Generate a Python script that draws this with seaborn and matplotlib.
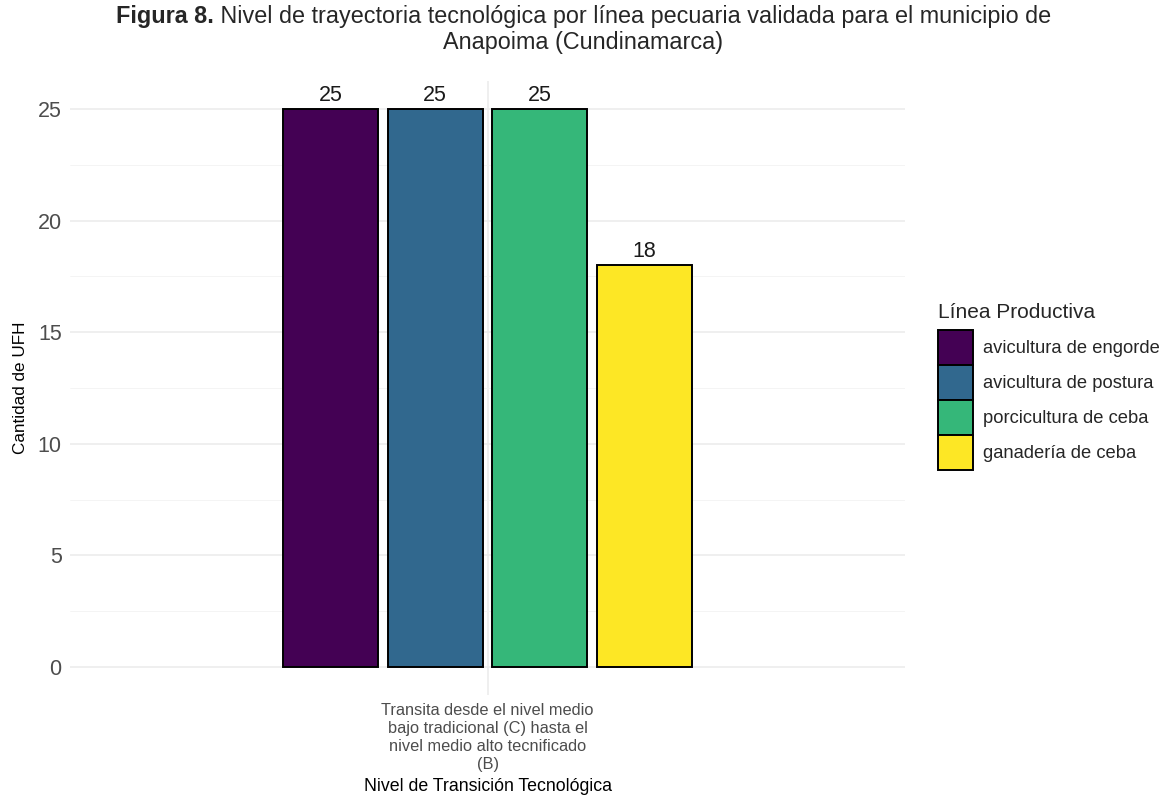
import matplotlib
matplotlib.use("Agg")
import matplotlib.pyplot as plt
import matplotlib.patches as mpatches
import seaborn as sns
import pandas as pd

# Data
nivel = ["Transita desde el nivel medio\nbajo tradicional (C) hasta el\nnivel medio alto tecnificado\n(B)"]
lineas = ["avicultura de engorde", "avicultura de postura",
          "porcicultura de ceba", "ganadería de ceba"]
cantidades = [25, 25, 25, 18]
colores = ["#440154", "#31688E", "#35B779", "#FDE725"]
y_ticks = [0, 5, 10, 15, 20, 25]
y_minor = [2.5, 7.5, 12.5, 17.5, 22.5]

titulo_bold = "Figura 8."
titulo_resto = " Nivel de trayectoria tecnológica por línea pecuaria validada para el municipio de"
titulo_linea2 = "Anapoima (Cundinamarca)"

df = pd.DataFrame({
    "nivel": nivel * len(lineas),
    "linea": lineas,
    "cantidad": cantidades,
})

sns.set_theme(style="white")
plt.rcParams["font.family"] = ["Liberation Sans", "DejaVu Sans"]

W, H = 1167, 796
fig = plt.figure(figsize=(W / 100, H / 100), dpi=100)
ax = fig.add_axes([70 / W, 1 - 695 / H, (905 - 70) / W, (695 - 81) / H])

sns.barplot(data=df, x="nivel", y="cantidad", hue="linea", hue_order=lineas,
            palette=colores, width=0.6, gap=0.09, edgecolor="black",
            linewidth=1.4, saturation=1, ax=ax, legend=False, zorder=3)

# ggplot-like minimal theme
ax.set_xlim(-0.6, 0.6)
ax.set_ylim(-1.25, 26.25)
ax.set_yticks(y_ticks)
ax.set_yticks(y_minor, minor=True)
ax.grid(True, which="major", axis="both", color="#EBEBEB", linewidth=1.1, zorder=0)
ax.grid(True, which="minor", axis="y", color="#F3F3F3", linewidth=0.6, zorder=0)
for s in ax.spines.values():
    s.set_visible(False)
ax.tick_params(axis="both", which="both", length=0)
ax.tick_params(axis="y", labelsize=15.5, labelcolor="#4D4D4D", pad=6)
ax.tick_params(axis="x", labelsize=11.8, labelcolor="#4D4D4D", pad=6)
for lab in ax.get_xticklabels():
    lab.set_linespacing(1.25)
    lab.set_horizontalalignment("center")

for cont in ax.containers:
    ax.bar_label(cont, fmt="%d", fontsize=15.5, color="#1A1A1A", padding=2)

ax.set_xlabel("Nivel de Transición Tecnológica", fontsize=12.8, color="black", labelpad=4)
ax.set_ylabel("Cantidad de UFH", fontsize=12.3, color="black", labelpad=7)

# Two-weight title: bold lead-in followed by regular text, centred as a whole
renderer = fig.canvas.get_renderer()
t_fs = 16.8
y1 = 1 - 17 / H
tb = fig.text(0, y1, titulo_bold, fontsize=t_fs, fontweight="bold", va="center", ha="left")
tr = fig.text(0, y1, titulo_resto, fontsize=t_fs, va="center", ha="left")
wb = tb.get_window_extent(renderer).width
wr = tr.get_window_extent(renderer).width
x0 = (W - (wb + wr)) / 2
tb.set_x(x0 / W)
tr.set_x((x0 + wb) / W)
fig.text(0.5, 1 - 42 / H, titulo_linea2, fontsize=t_fs, va="center", ha="center")

handles = [mpatches.Patch(facecolor=c, edgecolor="black", linewidth=1.4) for c in colores]
leg = fig.legend(handles, lineas, title="Línea Productiva", loc="upper left",
                 bbox_to_anchor=(938 / W, 1 - 303 / H), frameon=False,
                 fontsize=13.2, title_fontsize=15, handlelength=1.91,
                 handleheight=2.56, labelspacing=0.0, handletextpad=0.55,
                 borderaxespad=0, borderpad=0)
leg._legend_box.align = "left"
leg._legend_box.sep = 6

fig.savefig("out.png", dpi=100, facecolor="white")
